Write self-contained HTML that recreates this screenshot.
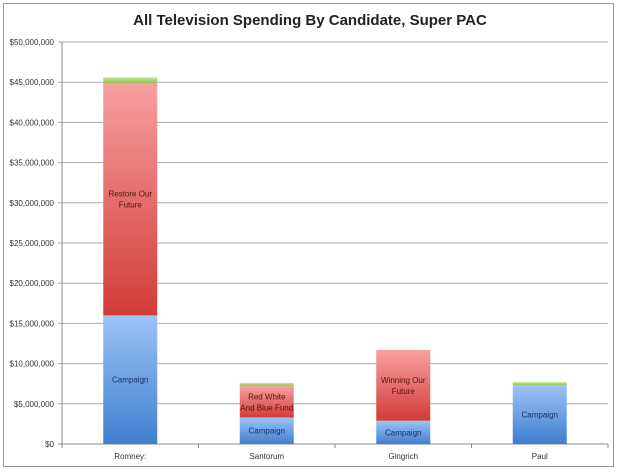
<!DOCTYPE html>
<html><head><meta charset="utf-8"><style>
body{margin:0;background:#fff;}
svg{display:block;font-family:"Liberation Sans",sans-serif;}
</style></head><body>
<svg width="620" height="472" viewBox="0 0 620 472">
<defs>
<linearGradient id="gBlue" x1="0" y1="0" x2="0" y2="1"><stop offset="0" stop-color="#9cc3f7"/><stop offset="1" stop-color="#3f7fcf"/></linearGradient>
<linearGradient id="gRed" x1="0" y1="0" x2="0" y2="1"><stop offset="0" stop-color="#f7a0a0"/><stop offset="1" stop-color="#d23c36"/></linearGradient>
<linearGradient id="gGreen" x1="0" y1="0" x2="0" y2="1"><stop offset="0" stop-color="#c8e890"/><stop offset="1" stop-color="#8fc454"/></linearGradient>
</defs>
<rect x="3.5" y="3.5" width="610" height="463" fill="#fff" stroke="#999"/>
<text x="310" y="25" text-anchor="middle" font-size="15" font-weight="bold" fill="#222">All Television Spending By Candidate, Super PAC</text>
<g id="grid"></g><g id="bars"></g><g id="labels"></g>
</svg>
<script>
const categories=["Romney:","Santorum","Gingrich","Paul"];
const campaign=[16.0,3.3,2.9,7.3];
const superPac=[28.9,3.9,8.8,0];
const other=[0.7,0.4,0,0.4];
const pacNames=["Restore Our\nFuture","Red White\nAnd Blue Fund","Winning Our\nFuture",""];
const yTicks=[0,5,10,15,20,25,30,35,40,45,50];
const NS="http://www.w3.org/2000/svg";
const x0=62,x1=608,y0=444,y1=42,yMax=50;
function y(v){return y0-(v/yMax)*(y0-y1);}
const band=(x1-x0)/categories.length;
function xc(i){return x0+band*(i+0.5);}
const grid=document.getElementById('grid'),bars=document.getElementById('bars'),labels=document.getElementById('labels');
function mk(tag,attrs,parent){const e=document.createElementNS(NS,tag);for(const k in attrs)e.setAttribute(k,attrs[k]);parent.appendChild(e);return e;}
yTicks.forEach(t=>{
  const l=mk('line',{x1:x0-4,x2:x1,y1:y(t),y2:y(t),stroke:t===0?'#888':'#aaa','stroke-width':1},grid);
  
  
  const tx=mk('text',{x:x0-8,y:y(t)+3,'text-anchor':'end','font-size':8,fill:'#333'},grid);
  tx.textContent='$'+(t*1000000).toLocaleString('en-US');
  
  
});
const ax=mk('line',{x1:x0,x2:x0,y1:y1,y2:y0,stroke:'#888'},grid);


for(let i=0;i<=categories.length;i++){
  const tk=mk('line',{x1:x0+band*i,x2:x0+band*i,y1:y0,y2:y0+4,stroke:'#888'},grid);
  
  
}
function label(txt,cx,cy,color){
  const lines=txt.split('\n');
  lines.forEach((s,k)=>{
    const t=mk('text',{x:cx,y:cy+(k-(lines.length-1)/2)*11+3,'text-anchor':'middle','font-size':8,fill:color},labels);
    t.textContent=s;
    
    
  });
}
const bw=54;
categories.forEach((c,i)=>{
  const bx=xc(i)-bw/2;
  let base=0;
  const segs=[[campaign[i],'url(#gBlue)','bar-campaign'],[superPac[i],'url(#gRed)','bar-super-pac'],[other[i],'url(#gGreen)','bar-other']];
  segs.forEach(([v,f,n],k)=>{
    if(v<=0)return;
    const r=mk('rect',{x:bx,y:y(base+v),width:bw,height:y(base)-y(base+v),fill:f},bars);
    
    
    if(k===0)label('Campaign',xc(i),(y(base)+y(base+v))/2,'#1a2f66');
    if(k===1&&pacNames[i])label(pacNames[i],xc(i),(y(base)+y(base+v))/2,'#5a0f0f');
    base+=v;
  });
  const t=mk('text',{x:xc(i),y:459,'text-anchor':'middle','font-size':8,fill:'#333'},labels);
  t.textContent=c;
  
  
});
</script>
</body></html>
